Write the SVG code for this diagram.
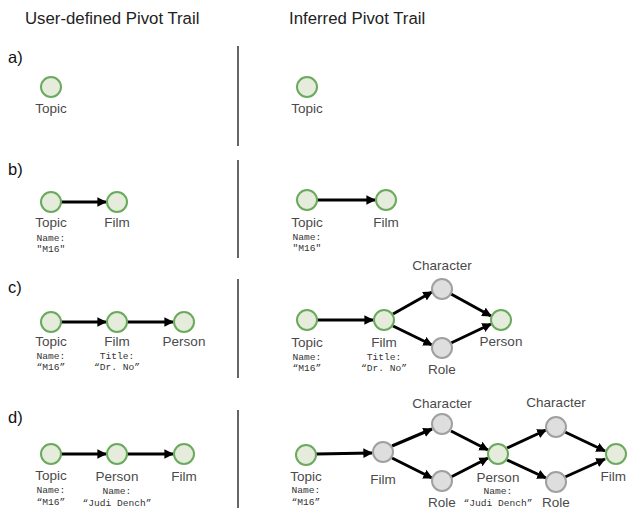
<svg xmlns="http://www.w3.org/2000/svg" width="627" height="510" viewBox="0 0 627 510">
<style>
.g{fill:#e5ecdc;stroke:#6aaa5c;stroke-width:2}
.n{fill:#dedede;stroke:#a0a0a0;stroke-width:2}
.lb{font-family:"Liberation Sans",Arial,sans-serif;font-size:13.5px;fill:#4a4a4a;text-anchor:middle}
.mo{font-family:"Liberation Mono","DejaVu Sans Mono",monospace;font-size:9.6px;fill:#333;text-anchor:middle}
.h{font-family:"Liberation Sans",Arial,sans-serif;font-size:16.8px;fill:#222}
.s{font-family:"Liberation Sans",Arial,sans-serif;font-size:16.5px;fill:#111}
.e{stroke:#000;stroke-width:3;fill:none;marker-end:url(#ah)}
.d{stroke:#666;stroke-width:2}
</style>
<defs>
<marker id="ah" viewBox="0 0 10 10" refX="9" refY="5" markerWidth="3.2" markerHeight="3.2" orient="auto" markerUnits="strokeWidth">
<path d="M0,0 L10,5 L0,10 z" fill="#000"/>
</marker>
</defs>
<rect width="627" height="510" fill="#fff"/>
<text class="h" x="25" y="24">User-defined Pivot Trail</text>
<text class="h" x="289" y="24">Inferred Pivot Trail</text>
<text class="s" x="8" y="63">a)</text>
<text class="s" x="8" y="175">b)</text>
<text class="s" x="8" y="293">c)</text>
<text class="s" x="8" y="423">d)</text>
<g id="dividers">
<line class="d" x1="238" y1="46" x2="238" y2="146"/>
<line class="d" x1="238" y1="160" x2="238" y2="258"/>
<line class="d" x1="238" y1="279" x2="238" y2="378"/>
<line class="d" x1="238" y1="410" x2="238" y2="508"/>
</g>
<g id="connectors">
<line class="e" x1="61" y1="202" x2="106" y2="202"/>
<line class="e" x1="317" y1="200" x2="375" y2="200"/>
<line class="e" x1="61" y1="322" x2="106" y2="322"/>
<line class="e" x1="127" y1="322" x2="173" y2="322"/>
<line class="e" x1="317" y1="320" x2="373" y2="320"/>
<line class="e" x1="393" y1="314" x2="432" y2="292"/>
<line class="e" x1="393" y1="326" x2="432" y2="345"/>
<line class="e" x1="451" y1="294" x2="491" y2="316"/>
<line class="e" x1="451" y1="343" x2="491" y2="324"/>
<line class="e" x1="61" y1="454" x2="106" y2="454"/>
<line class="e" x1="127" y1="454" x2="173" y2="454"/>
<line class="e" x1="316" y1="454" x2="372" y2="453"/>
<line class="e" x1="392" y1="446" x2="432" y2="429"/>
<line class="e" x1="392" y1="458" x2="432" y2="478"/>
<line class="e" x1="451" y1="431" x2="488" y2="450"/>
<line class="e" x1="451" y1="477" x2="488" y2="458"/>
<line class="e" x1="507" y1="448" x2="546" y2="430"/>
<line class="e" x1="507" y1="460" x2="546" y2="478"/>
<line class="e" x1="565" y1="432" x2="605" y2="451"/>
<line class="e" x1="565" y1="477" x2="605" y2="459"/>
</g>
<g id="a-left-topic"><circle class="g" cx="51" cy="87" r="10"/><text class="lb" x="51" y="113">Topic</text></g>
<g id="a-right-topic"><circle class="g" cx="307" cy="87" r="10"/><text class="lb" x="307" y="113">Topic</text></g>
<g id="b-left-topic"><circle class="g" cx="51" cy="202" r="10"/><text class="lb" x="51" y="227">Topic</text><text class="mo" x="51" y="241">Name:</text><text class="mo" x="51" y="252">"M16"</text></g>
<g id="b-left-film"><circle class="g" cx="117" cy="202" r="10"/><text class="lb" x="117" y="227">Film</text></g>
<g id="b-right-topic"><circle class="g" cx="307" cy="200" r="10"/><text class="lb" x="307" y="227">Topic</text><text class="mo" x="307" y="240">Name:</text><text class="mo" x="307" y="251">"M16"</text></g>
<g id="b-right-film"><circle class="g" cx="386" cy="200" r="10"/><text class="lb" x="386" y="227">Film</text></g>
<g id="c-left-topic"><circle class="g" cx="51" cy="322" r="10"/><text class="lb" x="51" y="346">Topic</text><text class="mo" x="51" y="359">Name:</text><text class="mo" x="51" y="370">“M16”</text></g>
<g id="c-left-film"><circle class="g" cx="117" cy="322" r="10"/><text class="lb" x="117" y="346">Film</text><text class="mo" x="117" y="359">Title:</text><text class="mo" x="117" y="370">“Dr. No”</text></g>
<g id="c-left-person"><circle class="g" cx="184" cy="322" r="10"/><text class="lb" x="184" y="346">Person</text></g>
<g id="c-right-topic"><circle class="g" cx="307" cy="320" r="10"/><text class="lb" x="307" y="347">Topic</text><text class="mo" x="307" y="360">Name:</text><text class="mo" x="307" y="371">“M16”</text></g>
<g id="c-right-film"><circle class="g" cx="384" cy="320" r="10"/><text class="lb" x="384" y="347">Film</text><text class="mo" x="384" y="360">Title:</text><text class="mo" x="384" y="371">“Dr. No”</text></g>
<g id="c-right-character"><circle class="n" cx="442" cy="289" r="10"/><text class="lb" x="442" y="270">Character</text></g>
<g id="c-right-role"><circle class="n" cx="442" cy="348" r="10"/><text class="lb" x="442" y="374">Role</text></g>
<g id="c-right-person"><circle class="g" cx="501" cy="320" r="10"/><text class="lb" x="501" y="346">Person</text></g>
<g id="d-left-topic"><circle class="g" cx="51" cy="454" r="10"/><text class="lb" x="51" y="480">Topic</text><text class="mo" x="51" y="493">Name:</text><text class="mo" x="51" y="505">“M16”</text></g>
<g id="d-left-person"><circle class="g" cx="117" cy="454" r="10"/><text class="lb" x="117" y="481">Person</text><text class="mo" x="117" y="494">Name:</text><text class="mo" x="117" y="506">“Judi Dench”</text></g>
<g id="d-left-film"><circle class="g" cx="184" cy="454" r="10"/><text class="lb" x="184" y="481">Film</text></g>
<g id="d-right-topic"><circle class="g" cx="306" cy="455" r="10"/><text class="lb" x="306" y="481">Topic</text><text class="mo" x="306" y="493">Name:</text><text class="mo" x="306" y="505">“M16”</text></g>
<g id="d-right-film"><circle class="n" cx="383" cy="452" r="10"/><text class="lb" x="383" y="484">Film</text></g>
<g id="d-right-character1"><circle class="n" cx="442" cy="424" r="10"/><text class="lb" x="442" y="408">Character</text></g>
<g id="d-right-role1"><circle class="n" cx="442" cy="481" r="10"/><text class="lb" x="442" y="507">Role</text></g>
<g id="d-right-person"><circle class="g" cx="498" cy="454" r="10"/><text class="lb" x="498" y="482">Person</text><text class="mo" x="498" y="494">Name:</text><text class="mo" x="498" y="506">“Judi Dench”</text></g>
<g id="d-right-character2"><circle class="n" cx="556" cy="427" r="10"/><text class="lb" x="556" y="407">Character</text></g>
<g id="d-right-role2"><circle class="n" cx="556" cy="482" r="10"/><text class="lb" x="556" y="507">Role</text></g>
<g id="d-right-film2"><circle class="g" cx="616" cy="454" r="10"/><text class="lb" x="626" y="481" style="text-anchor:end">Film</text></g>
</svg>
